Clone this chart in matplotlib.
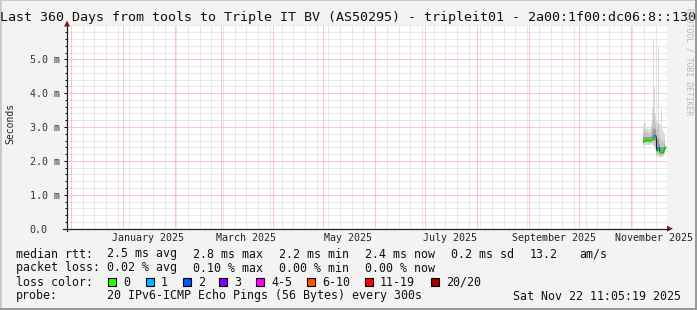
import matplotlib
matplotlib.use("Agg")
import matplotlib.pyplot as plt
import matplotlib.dates as mdates
from matplotlib.lines import Line2D
from matplotlib.patches import Polygon, Rectangle
import numpy as np
import pandas as pd

# sample times (one consolidated row every 14.4 h, last ~2 weeks only)
times = pd.date_range("2025-11-08 08:00", periods=23, freq="864min")

median = [2.60, 2.62, 2.62, 2.63, 2.62, 2.63, 2.62, 2.63, 2.64, 2.66, 2.72, 2.76,
          2.74, 2.33, 2.38, 2.40, 2.30, 2.26, 2.25, 2.27, 2.32, 2.38, 2.42]
p_min = [2.45, 2.47, 2.48, 2.48, 2.47, 2.48, 2.47, 2.48, 2.50, 2.48, 2.45, 2.40,
         2.35, 2.15, 2.12, 2.14, 2.12, 2.10, 2.11, 2.12, 2.15, 2.18, 2.20]
p10 = [2.50, 2.52, 2.53, 2.53, 2.52, 2.53, 2.52, 2.53, 2.55, 2.54, 2.55, 2.50,
       2.45, 2.20, 2.18, 2.20, 2.17, 2.15, 2.16, 2.17, 2.20, 2.24, 2.27]
p25 = [2.56, 2.58, 2.58, 2.59, 2.58, 2.59, 2.58, 2.59, 2.60, 2.61, 2.64, 2.64,
       2.60, 2.26, 2.28, 2.30, 2.23, 2.20, 2.20, 2.21, 2.26, 2.31, 2.35]
p75 = [2.70, 2.72, 2.72, 2.71, 2.70, 2.71, 2.70, 2.72, 2.75, 2.85, 2.95, 2.98,
       2.90, 2.60, 2.62, 2.66, 2.50, 2.42, 2.40, 2.40, 2.42, 2.48, 2.50]
p90 = [2.85, 2.95, 2.92, 2.82, 2.85, 2.82, 2.80, 2.85, 2.95, 3.20, 3.40, 3.30,
       3.10, 2.95, 3.00, 3.10, 2.80, 2.65, 2.60, 2.58, 2.55, 2.60, 2.62]
p_max = [3.05, 3.15, 3.10, 2.95, 3.00, 2.95, 2.90, 2.98, 3.10, 3.55, 5.60, 4.20,
         3.40, 3.20, 3.15, 5.40, 3.10, 3.05, 3.50, 2.90, 2.85, 2.80, 2.70]
loss = [0, 0, 0, 0, 0, 0, 0, 0, 0, 0, 0, 1, 1, 0, 1, 1, 0, 0, 0, 0, 0, 0, 0]

loss_names = ["0", "1", "2", "3", "4-5", "6-10", "11-19", "20/20"]
loss_colors = ["#26ff00", "#00b8ff", "#0059ff", "#7e00ff", "#ff00ff",
               "#ff5500", "#ff0000", "#a10000"]

yticks = [0, 1, 2, 3, 4, 5]
ylabels = ["0.0", "1.0 m", "2.0 m", "3.0 m", "4.0 m", "5.0 m"]
month_starts = pd.date_range("2024-12-01", "2025-11-01", freq="MS")
month_labels = ["January 2025", "March 2025", "May 2025", "July 2025",
                "September 2025", "November 2025"]
label_dates = pd.to_datetime(["2025-01-16", "2025-03-16", "2025-05-16",
                              "2025-07-16", "2025-09-16", "2025-11-15"])

title = "Last 360 Days from tools to Triple IT BV (AS50295) - tripleit01 - 2a00:1f00:dc06:8::130"

W, H = 697, 310
fig = plt.figure(figsize=(W / 100, H / 100), dpi=100, facecolor="#f3f3f3")
L, R, T, B = 67, 667, 25.4, 228.7
ax = fig.add_axes([L / W, 1 - B / H, (R - L) / W, (B - T) / H])
ax.set_facecolor("white")

mono = "DejaVu Sans Mono"

# smoke
ax.fill_between(times, p_min, p_max, step="mid", color="#dadada", lw=0, zorder=2)
ax.fill_between(times, p10, p90, step="mid", color="#c4c4c4", lw=0, zorder=3)
ax.fill_between(times, p25, p75, step="mid", color="#999999", lw=0, zorder=4)

# median, coloured by loss
ax.step(times, median, where="mid", color="#222222", lw=0.8, zorder=5)
half = pd.Timedelta(minutes=432)
for t, m, lo in zip(times, median, loss):
    ax.plot([t - half, t + half], [m, m], color=loss_colors[lo], lw=2.2,
            solid_capstyle="butt", zorder=6)

ax.set_xlim(pd.Timestamp("2024-11-28 14:30"), pd.Timestamp("2025-11-22 16:30"))
ax.set_ylim(0, 6.0)

# dotted grid: weeks / 0.2 ms in gray, months / 1 ms in light red
dot = (0, (1, 1))
ax.xaxis.set_major_locator(mdates.MonthLocator())
ax.xaxis.set_minor_locator(mdates.WeekdayLocator(byweekday=mdates.SU))
ax.xaxis.set_major_formatter(plt.NullFormatter())
ax.yaxis.set_minor_locator(plt.MultipleLocator(0.2))
ax.grid(which="minor", color="#d2d2d2", lw=0.72, ls=dot)
for d in month_starts:
    ax.axvline(d, color="#ff9090", lw=0.72, ls=dot, zorder=1.2)
for v in yticks[1:]:
    ax.axhline(v, color="#ff9090", lw=0.72, ls=dot, zorder=1.2)
ax.set_axisbelow(True)

ax.set_yticks(yticks, ylabels)
ax.tick_params(axis="y", which="major", length=2.5, width=0.7, pad=24.3,
               labelsize=7.2, labelcolor="#333333", labelfontfamily=mono)
ax.tick_params(axis="y", which="minor", length=1.5, width=0.7)
for lab in ax.get_yticklabels():
    lab.set_horizontalalignment("left")
ax.tick_params(axis="x", which="both", length=0)

for d, s in zip(label_dates, month_labels):
    ax.text(d, -0.046, s, transform=ax.get_xaxis_transform(), ha="center",
            va="center", fontsize=7.2, family=mono, color="#222222")

for s in ["top", "right", "left", "bottom"]:
    ax.spines[s].set_visible(False)

# axes with arrows (pixel coordinates)
def px(x, y):
    return (x / W, 1 - y / H)

fig.add_artist(Line2D([px(67, 0)[0], px(67, 0)[0]], [px(0, 231)[1], px(0, 25)[1]],
                      color="#222222", lw=0.9))
fig.add_artist(Line2D([px(63, 0)[0], px(668, 0)[0]], [px(0, 228.7)[1], px(0, 228.7)[1]],
                      color="#222222", lw=0.9))
fig.add_artist(Polygon([px(64, 26.5), px(70, 26.5), px(67, 20.5)], closed=True,
                       color="#8b1a1a", lw=0))
fig.add_artist(Polygon([px(667, 225.7), px(667, 231.7), px(673, 228.7)], closed=True,
                       color="#8b1a1a", lw=0))

fig.text(348.5 / W, 1 - 18 / H, title, ha="center", va="center",
         fontsize=9.6, family=mono, color="#111111")
fig.text(10.5 / W, 1 - 123 / H, "Seconds", rotation=90, ha="center", va="center",
         fontsize=7.0, family=mono, color="#222222")
fig.text(689 / W, 1 - 62 / H, "RRDTOOL / TOBI OETIKER", rotation=270, ha="center",
         va="center", fontsize=5.8, family=mono, color="#b8b8b8")

# legend block
def row(y, items):
    for x, s in items:
        fig.text(x / W, 1 - y / H, s, ha="left", va="center", fontsize=8.4,
                 family=mono, color="#111111")

row(254, [(16, "median rtt:"), (107, "2.5 ms avg"), (193, "2.8 ms max"),
          (279, "2.2 ms min"), (365, "2.4 ms now"), (451, "0.2 ms sd"),
          (530, "13.2"), (579, "am/s")])
row(268, [(16, "packet loss:"), (107, "0.02 % avg"), (193, "0.10 % max"),
          (279, "0.00 % min"), (365, "0.00 % now")])
row(282, [(16, "loss color:")])
sw_x = [108, 146, 183, 219, 256, 307, 365, 431]
for x, c, n in zip(sw_x, loss_colors, loss_names):
    fig.add_artist(Rectangle(px(x, 286), 8 / W, 8 / H, facecolor=c,
                             edgecolor="black", lw=0.8))
    row(282, [(x + 15, n)])
row(296, [(16, "probe:"), (107, "20 IPv6-ICMP Echo Pings (56 Bytes) every 300s"),
          (513, "Sat Nov 22 11:05:19 2025")])

# frame shading
fig.add_artist(Rectangle((0, 0), 2 / W, 1, color="#cbcbcb", lw=0))
fig.add_artist(Rectangle((0, 1 - 1 / H), 1, 1 / H, color="#cbcbcb", lw=0))
fig.add_artist(Rectangle((1 - 2 / W, 0), 2 / W, 1, color="#999999", lw=0))
fig.add_artist(Rectangle((0, 0), 1, 2 / H, color="#999999", lw=0))

fig.savefig("out.png", dpi=100, facecolor=fig.get_facecolor())
